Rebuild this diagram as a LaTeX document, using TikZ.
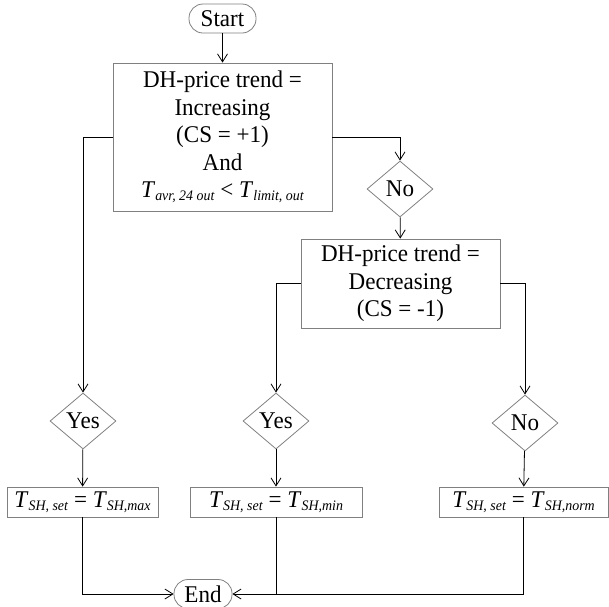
\documentclass[tikz,border=0pt]{standalone}
\usepackage{fontspec}
\setmainfont{Liberation Serif}[FakeStretch=0.96]
\usetikzlibrary{shapes.geometric,arrows.meta}

\newcommand{\Tsub}[1]{\textit{T}\raisebox{-2.5pt}{\fontsize{14.5}{15}\selectfont\textit{#1}}}

\tikzset{
    box/.style={draw=gray, line width=0.8pt, align=center, inner sep=0pt},
    terminal/.style={box, rounded corners=14pt, minimum height=29pt},
    decision/.style={draw=gray, line width=0.8pt, diamond, inner sep=0pt,
        minimum width=66pt, minimum height=56pt},
    arr/.style={-{Straight Barb[length=8pt,width=10pt]}, line width=0.8pt}
}

\begin{document}
\begin{tikzpicture}[x=1pt, y=-1pt, font=\fontsize{24}{27.5}\selectfont]
    \useasboundingbox (0,0) rectangle (609,606);

    % Start and first test
    \node[terminal, minimum width=67pt] (start) at (222.5,18.5) {Start};
    \node[box, minimum width=219pt, minimum height=148pt] (incr) at (222.5,137)
        {DH-price trend =\\ Increasing\\ (CS = +1)\\ And\\
         \Tsub{avr, 24 out} < \Tsub{limit, out}};
    \node[decision] (no1) at (400,189) {No};

    % Second test
    \node[box, minimum width=199pt, minimum height=89pt] (decr) at (400.5,283.5)
        {DH-price trend =\\ Decreasing\\ (CS = -1)};

    % Answers
    \node[decision] (yes1) at (83,421) {Yes};
    \node[decision] (yes2) at (276,421) {Yes};
    \node[decision] (no2) at (525,423) {No};

    % Set points
    \node[box, minimum width=151pt, minimum height=30pt] (setmax) at (82.5,502)
        {\Tsub{SH, set} = \Tsub{SH,max}};
    \node[box, minimum width=172pt, minimum height=30pt] (setmin) at (276,502)
        {\Tsub{SH, set} = \Tsub{SH,min}};
    \node[box, minimum width=169pt, minimum height=30pt] (setnorm) at (523.5,502)
        {\Tsub{SH, set} = \Tsub{SH,norm}};

    \node[terminal, minimum width=58pt] (end) at (203,594) {End};

    % Connectors
    \draw[arr] (start) -- (incr);
    \draw[arr] (incr.east) -| (no1.north);
    \draw[arr] (incr.west) -| (yes1.north);
    \draw[arr] (no1) -- (decr);
    \draw[arr] (decr.west) -| (yes2.north);
    \draw[arr] (decr.east) -| (no2.north);
    \draw[arr] (yes1) -- (setmax);
    \draw[arr] (yes2) -- (setmin);
    \draw[arr] (no2) -- (setnorm);
    \draw[arr] (setmax.south) |- (end.west);
    \draw[arr] (setnorm.south) |- (end.east);
    \draw[line width=0.8pt] (setmin.south) -- (setmin.south |- end.east);
\end{tikzpicture}
\end{document}
